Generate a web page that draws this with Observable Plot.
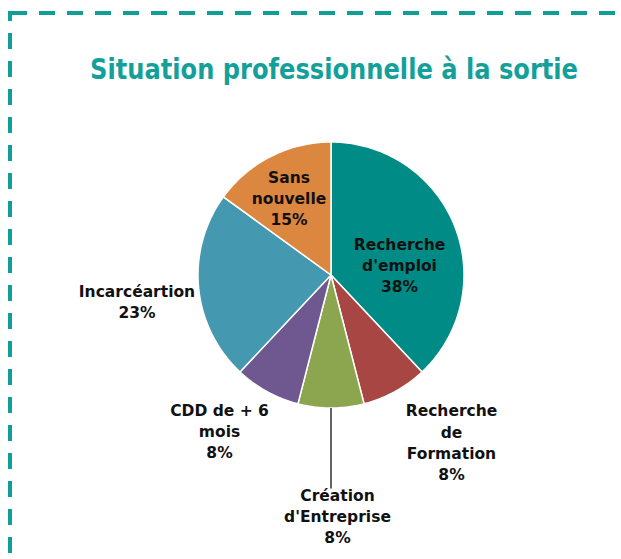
<!DOCTYPE html>
<html>
<head>
<meta charset="utf-8">
<script src="https://cdn.jsdelivr.net/npm/d3@7"></script>
<script src="https://cdn.jsdelivr.net/npm/@observablehq/plot@0.6"></script>
<style>
  html, body { margin: 0; padding: 0; background: #fff; }
  #wrap { position: relative; width: 621px; height: 559px; overflow: hidden; background: #fff; }
  #title { position: relative; height: 100px; }
  #title span {
    position: absolute; left: 334px; top: 52px; line-height: 34px;
    font-family: "DejaVu Sans", sans-serif; font-weight: bold; font-size: 29px;
    color: #14A09A; white-space: nowrap;
    transform: translateX(-50%) scaleX(0.833); transform-origin: center;
  }
  #border { position: absolute; left: 0; top: 0; pointer-events: none; }
  #chart svg { display: block; }
</style>
</head>
<body>
<div id="wrap">
  <div id="title"><span>Situation professionnelle à la sortie</span></div>
  <div id="chart"></div>
  <svg id="border" width="621" height="559">
    <line x1="10" y1="11" x2="10" y2="600" stroke="#109E97" stroke-width="4" stroke-dasharray="16 12" stroke-dashoffset="6"/>
    <line x1="11" y1="13" x2="640" y2="13" stroke="#109E97" stroke-width="4" stroke-dasharray="16 12"/>
  </svg>
</div>
<script>
// ---- data ----
const categories = ["Recherche d'emploi", "Recherche de Formation", "Création d'Entreprise", "CDD de + 6 mois", "Incarcéartion", "Sans nouvelle"];
const values = [38, 8, 8, 8, 23, 15];
const labelLines = ["Recherche\nd'emploi", "Recherche\nde\nFormation", "Création\nd'Entreprise", "CDD de + 6\nmois", "Incarcéartion", "Sans\nnouvelle"];
const colors = ["#008B87", "#A84644", "#8BA64E", "#6F5890", "#4499B0", "#DC873F"];

// ---- layout (pixels relative to pie centre; dx right, dy down) ----
const R = 133;
const labelOffsets = [[68.5, -11], [120.5, 166.5], [6.5, 240], [-111.5, 155], [-194, 25.5], [-42, -78]];
const leaderIndex = 2, leaderLength = 213.5;

const arcs = d3.pie().sort(null).value(d => d)(values);

const marks = [];
arcs.forEach((a, i) => {
  const pts = [{x: 0, y: 0}];
  const n = Math.max(2, Math.ceil((a.endAngle - a.startAngle) / (Math.PI / 180)));
  for (let k = 0; k <= n; k++) {
    const t = a.startAngle + (a.endAngle - a.startAngle) * k / n;
    pts.push({x: R * Math.sin(t), y: R * Math.cos(t)});
  }
  marks.push(Plot.line(pts, {x: "x", y: "y", fill: colors[i], stroke: "white", strokeWidth: 1.5, curve: "linear-closed", strokeLinejoin: "round"}));
});

// leader line for the small bottom slice
const la = arcs[leaderIndex];
const mid = (la.startAngle + la.endAngle) / 2;
marks.push(Plot.link([0], {
  x1: () => R * Math.sin(mid), y1: () => R * Math.cos(mid),
  x2: () => leaderLength * Math.sin(mid), y2: () => leaderLength * Math.cos(mid),
  stroke: "#111", strokeWidth: 1.3
}));

const labels = arcs.map((a, i) => ({
  text: labelLines[i] + "\n" + values[i] + "%",
  x: labelOffsets[i][0],
  y: -labelOffsets[i][1]
}));
marks.push(Plot.text(labels, {
  x: "x", y: "y", text: "text", fill: "#111",
  fontFamily: "DejaVu Sans", fontWeight: "bold", fontSize: 15.5, lineHeight: 1.37,
  textAnchor: "middle", lineAnchor: "middle"
}));

const chart = Plot.plot({
  width: 621, height: 459, margin: 0,
  x: {domain: [-330.5, 290.5], axis: null},
  y: {domain: [-284.5, 174.5], axis: null},
  style: {background: "white", overflow: "visible"},
  marks
});
document.getElementById("chart").appendChild(chart);
</script>
</body>
</html>
